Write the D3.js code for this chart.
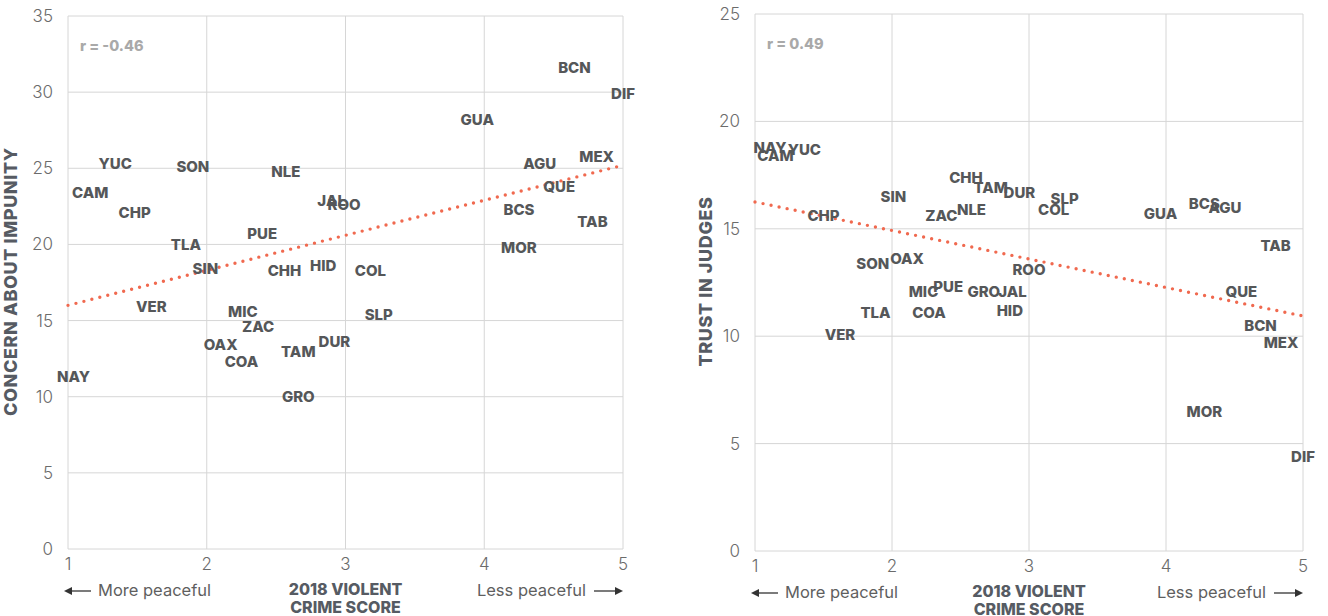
<!DOCTYPE html>
<html>
<head>
<meta charset="utf-8">
<script src="https://cdn.jsdelivr.net/npm/d3@7"></script>
<style>
  body { margin: 0; background: #fff; }
  svg { font-family: Inter, "Open Sans", sans-serif; }
  .grid line { stroke: #d6d6d6; stroke-width: 1; }
  .tick-label { fill: #6b6b6b; font-size: 17px; font-weight: 300; }
  .state { fill: #555759; font-size: 15px; font-weight: 800; text-anchor: middle; dominant-baseline: central; }
  .axis-title { fill: #565b63; font-size: 16px; font-weight: 800; }
  .y-title { fill: #565b63; font-size: 18px; font-weight: 800; letter-spacing: 0.6px; }
  .note { fill: #5f5f5f; font-size: 16.5px; font-weight: 400; }
  .rlabel { fill: #a9a9a9; font-size: 14.5px; font-weight: 800; }
</style>
</head>
<body>
<svg id="chart" width="1328" height="616"></svg>
<script>
// state codes, same order for both panels
const states = ["BCN","DIF","GUA","AGU","MEX","QUE","BCS","TAB","MOR","YUC","SON","NLE","CAM","CHP","JAL","ROO",
  "PUE","TLA","SIN","CHH","HID","COL","VER","MIC","ZAC","SLP","OAX","COA","TAM","DUR","NAY","GRO"];

// left panel: violent crime score vs concern about impunity
const crimeLeft = [4.65,5.0,3.95,4.40,4.81,4.54,4.25,4.78,4.25,1.34,1.90,2.57,1.16,1.48,2.90,2.99,
  2.40,1.85,1.99,2.56,2.84,3.18,1.60,2.26,2.37,3.24,2.10,2.25,2.66,2.92,1.04,2.66];
const impunity = [31.6,29.9,28.2,25.3,25.8,23.8,22.3,21.5,19.8,25.3,25.1,24.8,23.4,22.1,22.9,22.6,
  20.7,20.0,18.4,18.3,18.6,18.3,15.9,15.6,14.6,15.4,13.4,12.3,13.0,13.6,11.3,10.0];

// right panel: violent crime score vs trust in judges
const crimeRight = [4.69,5.0,3.96,4.43,4.84,4.55,4.28,4.80,4.28,1.36,1.86,2.58,1.15,1.50,2.88,3.0,
  2.41,1.88,2.01,2.54,2.86,3.18,1.62,2.23,2.36,3.26,2.11,2.27,2.72,2.93,1.11,2.67];
const trustJudges = [10.5,4.4,15.7,16.0,9.7,12.1,16.2,14.2,6.5,18.7,13.4,15.9,18.4,15.6,12.1,13.1,
  12.3,11.1,16.5,17.4,11.2,15.9,10.1,12.1,15.6,16.4,13.6,11.1,16.9,16.7,18.8,12.1];

// trend line values at x = 1 and x = 5
const trendLeft = [16.0, 25.2];
const trendRight = [16.25, 10.94];
const xTicks = [1, 2, 3, 4, 5];
const yTicksLeft = [0, 5, 10, 15, 20, 25, 30, 35];
const yTicksRight = [0, 5, 10, 15, 20, 25];

const svg = d3.select("#chart");

function panel(opts) {
  const x = d3.scaleLinear().domain([1, 5]).range([opts.left, opts.right]);
  const y = d3.scaleLinear().domain([0, opts.yMax]).range([opts.bottom, opts.top]);
  const g = svg.append("g");

  const grid = g.append("g").attr("class", "grid");
  grid.selectAll(".h").data(opts.yTicks).join("line")
    .attr("x1", opts.left).attr("x2", opts.right)
    .attr("y1", d => y(d)).attr("y2", d => y(d));
  grid.selectAll(".v").data(xTicks).join("line")
    .attr("x1", d => x(d)).attr("x2", d => x(d))
    .attr("y1", opts.top).attr("y2", opts.bottom);

  g.selectAll(".ytl").data(opts.yTicks).join("text")
    .attr("class", "tick-label")
    .attr("x", opts.left - 15).attr("y", d => y(d))
    .attr("text-anchor", "end").attr("dy", "0.35em")
    .text(d => d);
  g.selectAll(".xtl").data(xTicks).join("text")
    .attr("class", "tick-label")
    .attr("x", d => x(d)).attr("y", opts.bottom + 21)
    .attr("text-anchor", "middle")
    .text(d => d);

  // dotted trend line
  g.append("line")
    .attr("x1", x(1)).attr("y1", y(opts.trend[0]))
    .attr("x2", x(5)).attr("y2", y(opts.trend[1]))
    .attr("stroke", "#f0694f").attr("stroke-width", 3.4)
    .attr("stroke-linecap", "round").attr("stroke-dasharray", "0,8.2");

  g.selectAll(".state").data(states).join("text")
    .attr("class", "state")
    .attr("x", (d, i) => x(opts.xs[i]))
    .attr("y", (d, i) => y(opts.ys[i]))
    .text(d => d);

  g.append("text").attr("class", "rlabel")
    .attr("x", opts.left + 12).attr("y", opts.top + 35)
    .text(opts.r);

  g.append("text").attr("class", "y-title")
    .attr("transform", `translate(${opts.left - opts.titleGap},${(opts.top + opts.bottom) / 2 - 1}) rotate(-90)`)
    .attr("text-anchor", "middle")
    .text(opts.yTitle);

  const mid = (opts.left + opts.right) / 2;
  g.append("text").attr("class", "axis-title").attr("text-anchor", "middle")
    .attr("x", mid).attr("y", opts.bottom + 46).text("2018 VIOLENT");
  g.append("text").attr("class", "axis-title").attr("text-anchor", "middle")
    .attr("x", mid).attr("y", opts.bottom + 64).text("CRIME SCORE");

  g.append("text").attr("class", "note")
    .attr("x", opts.left + 30).attr("y", opts.bottom + 47)
    .text("More peaceful");
  g.append("text").attr("class", "note").attr("text-anchor", "end")
    .attr("x", opts.right - 37).attr("y", opts.bottom + 47)
    .text("Less peaceful");

  // arrows
  const ay = opts.bottom + 42;
  g.append("line").attr("x1", opts.left - 2).attr("x2", opts.left + 23)
    .attr("y1", ay).attr("y2", ay).attr("stroke", "#333").attr("stroke-width", 1.3);
  g.append("path").attr("d", `M${opts.left - 4},${ay} l8,-4 v8 z`).attr("fill", "#333");
  g.append("line").attr("x1", opts.right - 29).attr("x2", opts.right - 2)
    .attr("y1", ay).attr("y2", ay).attr("stroke", "#333").attr("stroke-width", 1.3);
  g.append("path").attr("d", `M${opts.right},${ay} l-8,-4 v8 z`).attr("fill", "#333");
}

panel({ left: 68, right: 623, top: 16, bottom: 549, yMax: 35, yTicks: yTicksLeft, titleGap: 51,
  xs: crimeLeft, ys: impunity, trend: trendLeft, r: "r = -0.46", yTitle: "CONCERN ABOUT IMPUNITY" });
panel({ left: 755, right: 1303, top: 14, bottom: 551, yMax: 25, yTicks: yTicksRight, titleGap: 43,
  xs: crimeRight, ys: trustJudges, trend: trendRight, r: "r = 0.49", yTitle: "TRUST IN JUDGES" });
</script>
</body>
</html>
